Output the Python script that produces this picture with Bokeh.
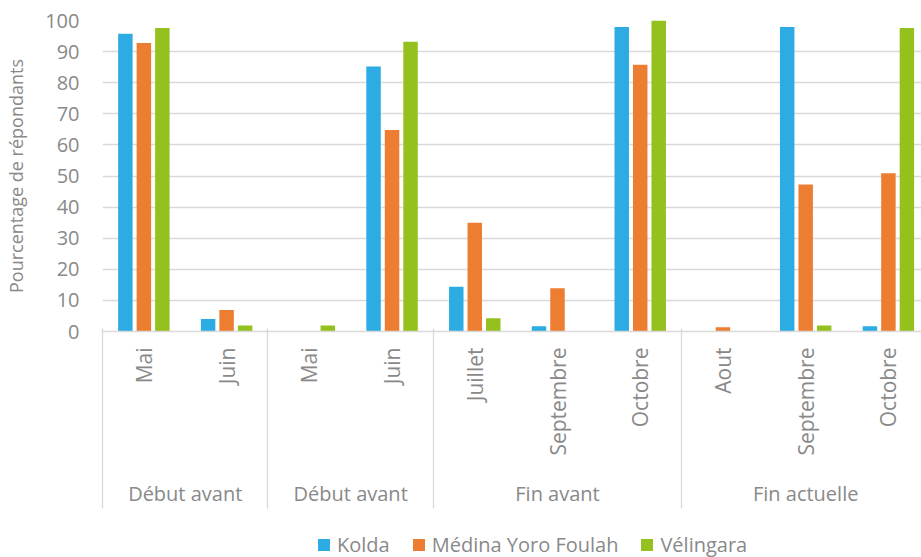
import math
from bokeh.plotting import figure
from bokeh.layouts import column
from bokeh.models import (Range1d, LinearAxis, FixedTicker, Legend, LegendItem,
                          ColumnDataSource)
from bokeh.embed import file_html
from bokeh.resources import INLINE

# Survey periods (groups) and the months listed under each
groups = ["Début avant", "Début avant", "Fin avant", "Fin actuelle"]
group_sizes = [2, 2, 3, 3]
months = ["Mai", "Juin", "Mai", "Juin", "Juillet", "Septembre", "Octobre",
          "Aout", "Septembre", "Octobre"]

# Percentage of respondents per district
series_names = ["Kolda", "Médina Yoro Foulah", "Vélingara"]
kolda = [95.7, 4.0, 0, 85.2, 14.4, 1.7, 97.9, 0, 97.9, 1.7]
medina = [92.8, 6.9, 0, 64.8, 35.0, 13.9, 85.8, 1.4, 47.3, 50.9]
velingara = [97.6, 1.9, 1.9, 93.2, 4.3, 0, 100, 0, 1.9, 97.6]

colors = ["#2CACE3", "#ED7D31", "#95C11F"]
text_color = "#898989"
line_color = "#D9D9D9"
FONT = "Open Sans"

n = len(months)
centers = [i + 0.5 for i in range(n)]

p = figure(frame_width=819, frame_height=311,
           x_range=Range1d(0, 9.9), y_range=Range1d(0, 100),
           x_axis_type=None, output_backend="svg", toolbar_location=None,
           min_border_left=102, min_border_top=20, min_border_right=0,
           min_border_bottom=0)
p.outline_line_color = None
p.background_fill_color = "white"
p.border_fill_color = "white"

# y axis: ticks every 10, gridlines, no axis line
p.yaxis.ticker = FixedTicker(ticks=list(range(0, 101, 10)))
p.yaxis.axis_line_color = None
p.yaxis.major_tick_line_color = None
p.yaxis.minor_tick_line_color = None
p.yaxis.major_label_text_font = FONT
p.yaxis.major_label_text_font_size = "20px"
p.yaxis.major_label_text_color = text_color
p.yaxis.major_label_standoff = 17
p.yaxis.axis_label = "Pourcentage de répondants"
p.yaxis.axis_label_text_font = FONT
p.yaxis.axis_label_text_font_size = "18px"
p.yaxis.axis_label_text_font_style = "normal"
p.yaxis.axis_label_text_color = text_color
p.yaxis.axis_label_standoff = 14
p.ygrid.grid_line_color = line_color
p.ygrid.grid_line_width = 1.3

# grouped bars
offsets = [-0.2235, 0.0, 0.2235]
bar_w = 0.175
sources = []
for vals, off, col in zip([kolda, medina, velingara], offsets, colors):
    src = ColumnDataSource(dict(x=[c + off for c in centers], top=vals))
    sources.append(src)
    p.vbar(x="x", top="top", width=bar_w, bottom=0, source=src,
           fill_color=col, line_color=None)

bounds = [0]
for s in group_sizes:
    bounds.append(bounds[-1] + s)

# month axis, drawn as the baseline; labels read bottom-to-top
month_axis = LinearAxis(
    ticker=FixedTicker(ticks=centers, minor_ticks=[]),
    major_label_overrides={c: m for c, m in zip(centers, months)},
    major_label_orientation=math.pi / 2,
    major_label_standoff=16,
    major_label_text_font=FONT,
    major_label_text_font_size="21px",
    major_label_text_color=text_color,
    axis_line_color=line_color, axis_line_width=1.3,
    major_tick_out=0, major_tick_in=0, minor_tick_out=0, minor_tick_in=0,
    major_tick_line_color=None, minor_tick_line_color=None,
)
p.add_layout(month_axis, "below")

# group axis; its minor ticks run up to the baseline and down past the
# group names, separating the groups
group_centers = [(a + b) / 2 for a, b in zip(bounds[:-1], bounds[1:])]
group_axis = LinearAxis(
    ticker=FixedTicker(ticks=group_centers, minor_ticks=bounds),
    major_label_overrides={c: g for c, g in zip(group_centers, groups)},
    major_label_orientation="horizontal",
    major_label_standoff=-29,
    major_label_text_font=FONT,
    major_label_text_font_size="20px",
    major_label_text_color=text_color,
    axis_line_color=None, major_tick_line_color=None,
    major_tick_out=0, major_tick_in=0, minor_tick_out=50, minor_tick_in=130,
    minor_tick_line_color=line_color, minor_tick_line_width=1.3,
)
p.add_layout(group_axis, "below")

# legend strip underneath the chart; its renderers share the bar data but
# sit outside this strip's y range, so only the legend keys show
lf = figure(width=921, height=557 - 508, x_range=p.x_range, y_range=Range1d(200, 201),
            x_axis_type=None, y_axis_type=None, output_backend="svg",
            toolbar_location=None, min_border=0)
lf.outline_line_color = None
lf.background_fill_color = "white"
lf.border_fill_color = "white"
keys = [lf.vbar(x="x", top="top", width=bar_w, bottom=0, source=src,
                fill_color=col, line_color=None)
        for src, col in zip(sources, colors)]
legend = Legend(
    items=[LegendItem(label=name, renderers=[r]) for name, r in zip(series_names, keys)],
    orientation="horizontal", location=(214, 0),
    label_text_font=FONT, label_text_font_size="20px", label_text_color=text_color,
    glyph_width=15, glyph_height=15, label_standoff=6, spacing=21,
    padding=0, margin=0, border_line_color=None, background_fill_alpha=0,
)
lf.add_layout(legend, "center")

layout = column(p, lf, spacing=0)
open("out.html", "w").write(file_html(layout, INLINE))
